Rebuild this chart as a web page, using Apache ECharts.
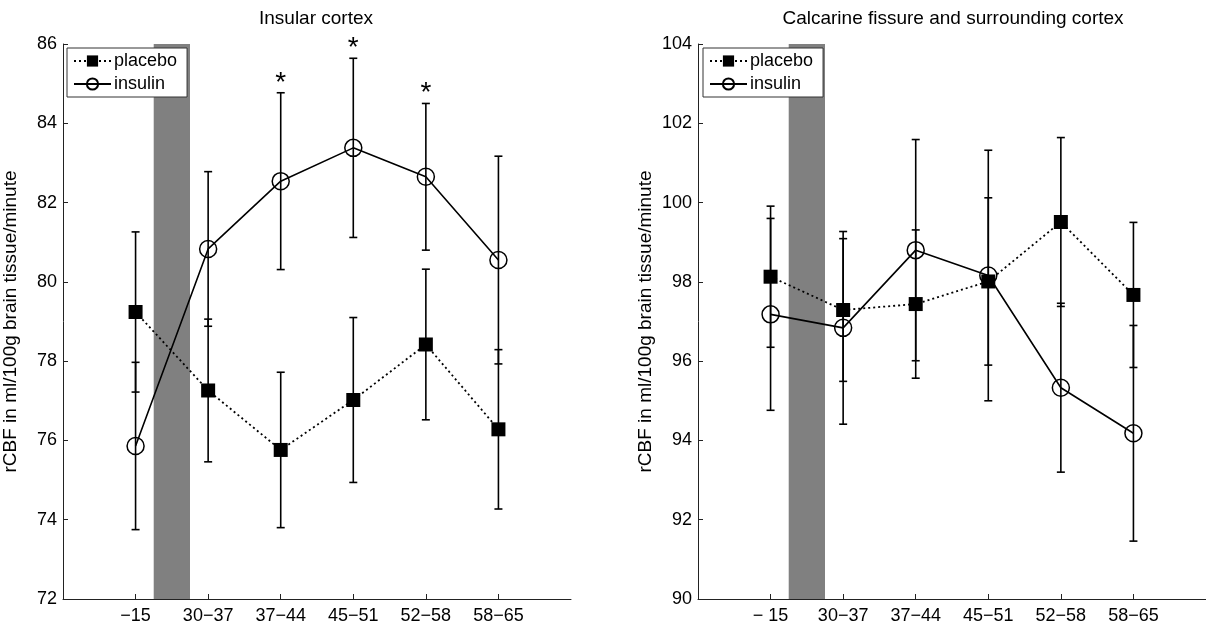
<!DOCTYPE html>
<html>
<head>
<meta charset="utf-8">
<title>rCBF insulin vs placebo</title>
<script src="https://cdn.jsdelivr.net/npm/echarts@6/dist/echarts.min.js"></script>
<style>
  html, body { margin: 0; padding: 0; background: #fff; }
  #chart { width: 1206px; height: 625px; }
</style>
</head>
<body>
<div id="chart"></div>
<script>
// time windows (minutes), x positions 1..6 on the axis
const categoriesLeft = ['\u221215', '30\u221237', '37\u221244', '45\u221251', '52\u221258', '58\u221265'];
const categoriesRight = ['\u2212 15', '30\u221237', '37\u221244', '45\u221251', '52\u221258', '58\u221265'];

// Insular cortex
const insularPlacebo = [79.24, 77.26, 75.76, 77.02, 78.42, 76.28];
const insularPlaceboErr = [2.02, 1.80, 1.96, 2.08, 1.90, 2.01];
const insularInsulin = [75.86, 80.83, 82.54, 83.38, 82.65, 80.55];
const insularInsulinErr = [2.11, 1.95, 2.23, 2.26, 1.85, 2.62];
const insularSignificant = [false, false, true, true, true, false];

// Calcarine fissure and surrounding cortex
const calcarinePlacebo = [98.13, 97.29, 97.44, 98.01, 99.51, 97.67];
const calcarinePlaceboErr = [1.78, 1.80, 1.87, 2.11, 2.13, 1.83];
const calcarineInsulin = [97.18, 96.84, 98.80, 98.16, 95.33, 94.18];
const calcarineInsulinErr = [2.42, 2.43, 2.79, 3.16, 2.13, 2.72];

// infusion period (grey band) on the x axis
const infusionBand = [1.25, 1.75];

const FONT = 'Liberation Sans, Arial, Helvetica, sans-serif';
const xs = [1, 2, 3, 4, 5, 6];

const toPoints = (vals) => vals.map((v, i) => [xs[i], v]);
const toBars = (vals, errs) => vals.map((v, i) => [xs[i], v - errs[i], v + errs[i]]);

function renderErrorBar(params, api) {
  const x = api.value(0);
  const top = api.coord([x, api.value(2)]);
  const bot = api.coord([x, api.value(1)]);
  const w = 4;
  const style = { stroke: '#000', lineWidth: 1.6 };
  return {
    type: 'group',
    children: [
      { type: 'line', shape: { x1: top[0], y1: top[1], x2: bot[0], y2: bot[1] }, style: style },
      { type: 'line', shape: { x1: top[0] - w, y1: top[1], x2: top[0] + w, y2: top[1] }, style: style },
      { type: 'line', shape: { x1: bot[0] - w, y1: bot[1], x2: bot[0] + w, y2: bot[1] }, style: style }
    ]
  };
}

function renderBand(params, api) {
  const a = api.coord([api.value(0), 0]);
  const b = api.coord([api.value(1), 0]);
  const cs = params.coordSys;
  return {
    type: 'rect',
    shape: { x: a[0], y: cs.y, width: b[0] - a[0], height: cs.height },
    style: { fill: '#808080' }
  };
}

function renderStar(params, api) {
  const p = api.coord([api.value(0), api.value(1)]);
  return {
    type: 'text',
    x: p[0], y: p[1] + 4,
    style: { text: '*', fill: '#000', fontSize: 28, fontFamily: FONT, align: 'center', verticalAlign: 'middle' }
  };
}

function xAxisFor(idx, labels) {
  return {
    type: 'value', gridIndex: idx, min: 0, max: 7, interval: 1,
    axisLine: { lineStyle: { color: '#222', width: 1 } },
    axisTick: { inside: true, length: 5, customValues: xs, lineStyle: { color: '#222' } },
    axisLabel: {
      customValues: xs, margin: 8, color: '#000', fontSize: 18, fontFamily: FONT,
      formatter: (v) => labels[v - 1] || ''
    },
    splitLine: { show: false }
  };
}

function yAxisFor(idx, min, max) {
  return {
    type: 'value', gridIndex: idx, min: min, max: max, interval: 2,
    name: 'rCBF in ml/100g brain tissue/minute',
    nameLocation: 'middle', nameGap: 43,
    nameTextStyle: { color: '#000', fontSize: 19, fontFamily: FONT },
    axisLine: { show: true, lineStyle: { color: '#222', width: 1 } },
    axisTick: { show: true, inside: true, length: 5, lineStyle: { color: '#222' } },
    axisLabel: { margin: 6, color: '#000', fontSize: 18, fontFamily: FONT },
    splitLine: { show: false }
  };
}

function seriesFor(idx, placebo, placeboErr, insulin, insulinErr, significant) {
  const list = [
    {
      type: 'custom', xAxisIndex: idx, yAxisIndex: idx, z: 1, silent: true,
      renderItem: renderBand, data: [infusionBand], encode: { x: [0, 1] }
    },
    {
      type: 'custom', xAxisIndex: idx, yAxisIndex: idx, z: 2, silent: true,
      renderItem: renderErrorBar, data: toBars(placebo, placeboErr), encode: { x: 0, y: [1, 2] }
    },
    {
      type: 'custom', xAxisIndex: idx, yAxisIndex: idx, z: 2, silent: true,
      renderItem: renderErrorBar, data: toBars(insulin, insulinErr), encode: { x: 0, y: [1, 2] }
    },
    {
      name: 'placebo', type: 'line', xAxisIndex: idx, yAxisIndex: idx, z: 3,
      data: toPoints(placebo),
      symbol: 'rect', symbolSize: 14,
      lineStyle: { color: '#000', width: 1.8, type: [2, 3] },
      itemStyle: { color: '#000' }
    },
    {
      name: 'insulin', type: 'line', xAxisIndex: idx, yAxisIndex: idx, z: 4,
      data: toPoints(insulin),
      symbol: 'circle', symbolSize: 17, showAllSymbol: true,
      lineStyle: { color: '#000', width: 1.6 },
      itemStyle: { color: 'rgba(255,255,255,0)', borderColor: '#000', borderWidth: 1.5 }
    }
  ];
  if (significant) {
    const stars = [];
    significant.forEach((s, i) => {
      if (s) stars.push([xs[i], insulin[i] + insulinErr[i] + 0.35]);
    });
    list.push({
      type: 'custom', xAxisIndex: idx, yAxisIndex: idx, z: 5, silent: true,
      renderItem: renderStar, data: stars, encode: { x: 0, y: 1 }
    });
  }
  return list;
}

function legendFor(left) {
  return {
    left: left, top: 48, orient: 'vertical',
    data: ['placebo', 'insulin'],
    backgroundColor: '#fff', borderColor: '#333', borderWidth: 1, borderRadius: 0,
    padding: [4, 10, 4, 6], itemGap: 5, itemWidth: 37, itemHeight: 14,
    selectedMode: false,
    textStyle: { color: '#000', fontSize: 18, fontFamily: FONT, padding: [0, 0, 0, -2] }
  };
}

const chart = echarts.init(document.getElementById('chart'));
chart.setOption({
  animation: false,
  backgroundColor: '#fff',
  title: [
    { text: 'Insular cortex', left: 316, top: 9, padding: 0, textAlign: 'center',
      textStyle: { fontSize: 19, fontWeight: 'normal', color: '#000', fontFamily: FONT } },
    { text: 'Calcarine fissure and surrounding cortex', left: 953, top: 9, padding: 0, textAlign: 'center',
      textStyle: { fontSize: 19, fontWeight: 'normal', color: '#000', fontFamily: FONT } }
  ],
  legend: [legendFor(67), legendFor(703)],
  grid: [
    { left: 62, right: 635, top: 44, bottom: 26, containLabel: false },
    { left: 698, right: -2, top: 44, bottom: 26, containLabel: false }
  ],
  xAxis: [xAxisFor(0, categoriesLeft), xAxisFor(1, categoriesRight)],
  yAxis: [yAxisFor(0, 72, 86), yAxisFor(1, 90, 104)],
  series: [].concat(
    seriesFor(0, insularPlacebo, insularPlaceboErr, insularInsulin, insularInsulinErr, insularSignificant),
    seriesFor(1, calcarinePlacebo, calcarinePlaceboErr, calcarineInsulin, calcarineInsulinErr, null)
  )
});
</script>
</body>
</html>
